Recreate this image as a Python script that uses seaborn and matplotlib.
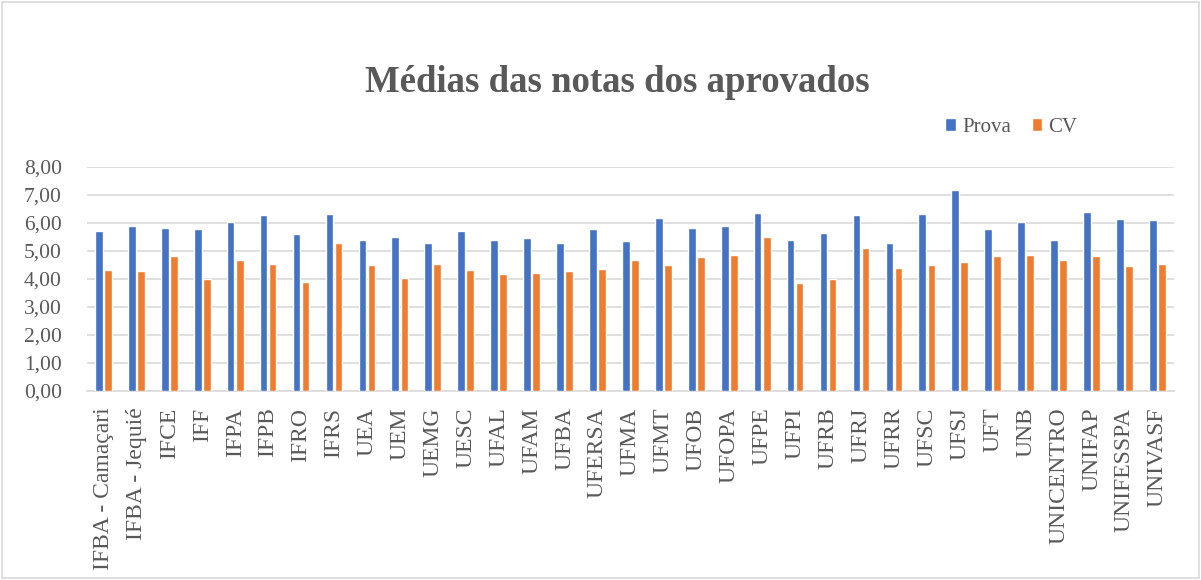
import pandas as pd
import seaborn as sns
import matplotlib.pyplot as plt
from matplotlib.ticker import FuncFormatter, MultipleLocator
from matplotlib.patches import Rectangle

instituicoes = ['IFBA - Camaçari', 'IFBA - Jequié', 'IFCE', 'IFF', 'IFPA', 'IFPB',
                'IFRO', 'IFRS', 'UEA', 'UEM', 'UEMG', 'UESC', 'UFAL', 'UFAM',
                'UFBA', 'UFERSA', 'UFMA', 'UFMT', 'UFOB', 'UFOPA', 'UFPE', 'UFPI',
                'UFRB', 'UFRJ', 'UFRR', 'UFSC', 'UFSJ', 'UFT', 'UNB', 'UNICENTRO',
                'UNIFAP', 'UNIFESSPA', 'UNIVASF']

prova = [5.70, 5.91, 5.81, 5.77, 6.05, 6.27, 5.59, 6.33, 5.41, 5.51,
         5.27, 5.73, 5.41, 5.45, 5.27, 5.77, 5.36, 6.18, 5.81, 5.91,
         6.37, 5.41, 5.64, 6.27, 5.27, 6.33, 7.19, 5.77, 6.05, 5.41,
         6.41, 6.14, 6.09]

cv = [4.32, 4.27, 4.82, 4.00, 4.67, 4.54, 3.89, 5.27, 4.49, 4.04,
      4.54, 4.32, 4.17, 4.22, 4.27, 4.35, 4.67, 4.49, 4.77, 4.86,
      5.49, 3.85, 4.00, 5.09, 4.40, 4.49, 4.59, 4.82, 4.86, 4.67,
      4.82, 4.45, 4.54]

df = pd.DataFrame({'inst': instituicoes * 2,
                   'nota': prova + cv,
                   'serie': ['Prova'] * len(prova) + ['CV'] * len(cv)})

sns.set_style('white')
plt.rcParams['font.family'] = ['Liberation Serif', 'DejaVu Serif']
cinza = '#595959'

fig = plt.figure(figsize=(12.01, 5.80), dpi=100)
ax = fig.add_axes([0.0724, 0.326, 0.905, 0.386])

sns.barplot(data=df, x='inst', y='nota', hue='serie', ax=ax,
            palette={'Prova': '#4472C4', 'CV': '#ED7D31'}, saturation=1,
            width=0.55, gap=0.15, errorbar=None, zorder=3)

ax.set_ylim(0, 8)
ax.yaxis.set_major_locator(MultipleLocator(1))
ax.yaxis.set_major_formatter(FuncFormatter(lambda v, p: f'{v:.2f}'.replace('.', ',')))
ax.grid(axis='y', color='#D9D9D9', linewidth=1.2, zorder=0)
ax.set_xlim(-0.5, len(instituicoes) - 0.5)
for s in ['top', 'right', 'left']:
    ax.spines[s].set_visible(False)
ax.spines['bottom'].set_color('#D9D9D9')
ax.spines['bottom'].set_linewidth(1.2)
ax.set_xlabel('')
ax.set_ylabel('')
ax.tick_params(axis='both', length=0, colors=cinza)
ax.tick_params(axis='y', labelsize=15.5, pad=18)
ax.tick_params(axis='x', labelsize=17, pad=12)
plt.setp(ax.get_xticklabels(), rotation=90)

ax.legend_.remove()
handles, labels = ax.get_legend_handles_labels()
fig.legend(handles, labels, loc='center', bbox_to_anchor=(0.842, 0.781), ncol=2,
           frameon=False, fontsize=15, labelcolor=cinza, handlelength=0.5,
           handleheight=0.6, handletextpad=0.3, columnspacing=1.0)

fig.text(0.514, 0.858, 'Médias das notas dos aprovados', ha='center', va='center',
         fontsize=26.5, fontweight='bold', color=cinza)

fig.patches.append(Rectangle((0.002, 0.003), 0.996, 0.994, transform=fig.transFigure,
                             fill=False, edgecolor='#D9D9D9', linewidth=1.2))

plt.savefig('out.png', dpi=100)
